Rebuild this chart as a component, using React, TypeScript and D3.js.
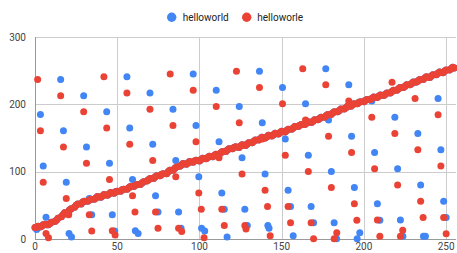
import React, { useEffect } from "react";
import * as d3 from "d3";

const WIDTH = 457;
const HEIGHT = 253;

const seriesNames = ["helloworld", "helloworle"];
const seriesColors = ["#4285F4", "#EA4335"];
const xTicks = [0, 50, 100, 150, 200, 250];
const yTicks = [0, 100, 200, 300];

// scattered points of "helloworld"
const helloworldScatter: [number, number][] = [
  [1, 14],
  [3.3, 184.8], [5.0, 108.5], [6.7, 32.2],
  [15.6, 237], [17.3, 160.7], [19.0, 84.4], [20.7, 8.1],
  [29.6, 212.9], [31.3, 136.6], [33.0, 60.3],
  [43.6, 188.8], [45.3, 112.5], [47.0, 36.2],
  [55.9, 241], [57.6, 164.7], [59.3, 88.4], [61.0, 12.1],
  [69.9, 216.9], [71.6, 140.6], [73.3, 64.3],
  [83.9, 192.8], [85.6, 116.5], [87.3, 40.2],
  [96.2, 245], [97.9, 168.7], [99.6, 92.4], [101.3, 16.1],
  [110.2, 220.9], [111.9, 144.6], [113.6, 68.3],
  [124.2, 196.8], [125.9, 120.5], [127.6, 44.2],
  [136.5, 249], [138.2, 172.7], [139.9, 96.4], [141.6, 20.1],
  [150.5, 224.9], [152.2, 148.6], [153.9, 72.3],
  [164.5, 200.8], [166.2, 124.5], [167.9, 48.2],
  [176.8, 253], [178.5, 176.7], [180.2, 100.4], [181.9, 24.1],
  [190.8, 228.9], [192.5, 152.6], [194.2, 76.3], [195.9, 0.5],
  [204.8, 204.8], [206.5, 128.5], [208.2, 52.2],
  [218.8, 180.7], [220.5, 104.4], [222.2, 28.1],
  [231.1, 232.9], [232.8, 156.6], [234.5, 80.3], [236.2, 4.0],
  [245.1, 208.8], [246.8, 132.5], [248.5, 56.2],
  [34.5, 36.1], [48.5, 12.0], [74.8, 40.1], [88.8, 16.0], [115.1, 44.1],
  [129.1, 20.0], [155.4, 48.1], [169.4, 24.0], [183.4, 0.5], [209.7, 28.0],
  [223.7, 3.9], [250.0, 32.0],
  [22.2, 3], [62.7, 8], [103.2, 12], [142.3, 16], [116.8, 3], [157, 5],
  [197.5, 9.4], [237.4, 4],
];

// scattered points of "helloworle"
const helloworleScatter: [number, number][] = [
  [1.6, 237], [3.3, 160.7], [5.0, 84.4], [6.7, 8.1],
  [15.6, 212.9], [17.3, 136.6], [19.0, 60.3],
  [29.6, 188.8], [31.3, 112.5], [33.0, 36.2],
  [41.9, 241], [43.6, 164.7], [45.3, 88.4], [47.0, 12.1],
  [55.9, 216.9], [57.6, 140.6], [59.3, 64.3],
  [69.9, 192.8], [71.6, 116.5], [73.3, 40.2],
  [82.2, 245], [83.9, 168.7], [85.6, 92.4], [87.3, 16.1],
  [96.2, 220.9], [97.9, 144.6], [99.6, 68.3],
  [110.2, 196.8], [111.9, 120.5], [113.6, 44.2],
  [122.5, 249], [124.2, 172.7], [125.9, 96.4], [127.6, 20.1],
  [136.5, 224.9], [138.2, 148.6], [139.9, 72.3],
  [150.5, 200.8], [152.2, 124.5], [153.9, 48.2],
  [162.8, 253], [164.5, 176.7], [166.2, 100.4], [167.9, 24.1],
  [176.8, 228.9], [178.5, 152.6], [180.2, 76.3], [181.9, 0.5],
  [190.8, 204.8], [192.5, 128.5], [194.2, 52.2],
  [204.8, 180.7], [206.5, 104.4], [208.2, 28.1],
  [217.1, 232.9], [218.8, 156.6], [220.5, 80.3], [222.2, 4.0],
  [231.1, 208.8], [232.8, 132.5], [234.5, 56.2],
  [245.1, 184.7], [246.8, 108.4], [248.5, 32.1],
  [20.5, 36.1], [34.5, 12.0], [60.8, 40.1], [74.8, 16.0], [101.1, 44.1],
  [115.1, 20.0], [141.4, 48.1], [155.4, 24.0], [169.4, 0.5], [195.7, 28.0],
  [209.7, 3.9], [236.0, 32.0], [250.0, 7.9],
  [8.2, 2], [48.7, 6], [89.2, 11], [128.3, 15], [102.8, 2], [143, 5],
  [183.5, 9.4], [223.6, 13],
];

// dense rising band shared by both series
const diagonalPoints: [number, number][] = [
  [0, 17], [1, 18], [2, 19], [3, 18], [4, 19], [5, 21], [6, 22], [7, 21], [8, 21], [9, 23], [10, 25],
  [12, 26], [13, 28], [14, 31], [16, 33], [17, 36], [18, 39], [20, 40], [21, 43], [22, 45], [24, 47],
  [25, 50], [26, 52], [28, 52], [29, 55], [30, 56], [32, 56], [33, 58], [34, 59], [36, 59], [37, 61],
  [38, 63], [40, 62], [41, 64], [42, 66], [44, 65], [45, 67], [46, 69], [48, 68], [49, 70], [50, 71],
  [52, 71], [53, 73], [54, 74], [56, 74], [57, 76], [58, 78], [60, 78], [61, 80], [62, 81], [64, 81],
  [65, 83], [66, 85], [68, 86], [69, 88], [70, 90], [72, 90], [73, 92], [74, 94], [76, 94], [77, 96],
  [78, 97], [80, 97], [81, 100], [82, 102], [84, 102], [85, 105], [86, 107], [88, 108], [89, 110],
  [90, 112], [92, 111], [93, 113], [94, 115], [96, 114], [97, 116], [98, 117], [100, 116], [101, 118],
  [102, 120], [104, 119], [105, 121], [106, 123], [108, 122], [109, 124], [110, 126], [112, 126],
  [113, 128], [114, 130], [116, 130], [117, 132], [118, 134], [120, 134], [121, 136], [122, 137],
  [124, 136], [125, 138], [126, 140], [128, 139], [129, 141], [130, 143], [132, 143], [133, 145],
  [134, 147], [136, 147], [137, 149], [138, 151], [140, 150], [141, 152], [142, 154], [144, 153],
  [145, 155], [146, 157], [148, 156], [149, 158], [150, 160], [152, 159], [153, 161], [154, 163],
  [156, 163], [157, 165], [158, 167], [160, 167], [161, 169], [162, 170], [164, 170], [165, 172],
  [166, 174], [168, 173], [169, 175], [170, 177], [172, 177], [173, 179], [174, 181], [176, 181],
  [177, 183], [178, 185], [180, 185], [181, 187], [182, 189], [184, 189], [185, 191], [186, 193],
  [188, 193], [189, 195], [190, 197], [192, 197], [193, 199], [194, 201], [196, 201], [197, 203],
  [198, 204], [200, 204], [201, 206], [202, 207], [204, 207], [205, 209], [206, 211], [208, 210],
  [209, 212], [210, 214], [212, 213], [213, 215], [214, 217], [216, 217], [217, 219], [218, 221],
  [220, 221], [221, 223], [222, 225], [224, 225], [225, 227], [226, 229], [228, 229], [229, 231],
  [230, 233], [232, 233], [233, 235], [234, 237], [236, 237], [237, 239], [238, 241], [240, 240],
  [241, 242], [242, 244], [244, 244], [245, 246], [246, 248], [248, 247], [249, 249], [250, 251],
  [252, 251], [253, 253], [254, 255], [255, 254],
];

const plot = { left: 35, right: 456, top: 37, bottom: 239 };

export default function App() {
  useEffect(() => {
    document.body.style.margin = "0";
  }, []);

  const x = d3.scaleLinear().domain([0, 256]).range([plot.left, plot.right]);
  const y = d3.scaleLinear().domain([0, 300]).range([plot.bottom, plot.top]);

  const series = [
    helloworldScatter.concat(diagonalPoints),
    helloworleScatter.concat(diagonalPoints),
  ];

  const font = "Roboto, Arial, sans-serif";

  return (
    <div style={{ position: "absolute", left: 0, top: 0 }}>
      <svg width={WIDTH} height={HEIGHT} style={{ display: "block", background: "#fff" }} fontFamily={font}>
        <rect x={0} y={0} width={WIDTH} height={HEIGHT} fill="#fff" />
        {yTicks.filter((t) => t > 0).map((t) => (
          <line key={"gy" + t} x1={plot.left} x2={plot.right} y1={Math.round(y(t)) + 0.5} y2={Math.round(y(t)) + 0.5} stroke="#cccccc" strokeWidth={1} />
        ))}
        {xTicks.filter((t) => t > 0).map((t) => (
          <line key={"gx" + t} y1={plot.top} y2={plot.bottom} x1={Math.round(x(t)) + 0.5} x2={Math.round(x(t)) + 0.5} stroke="#cccccc" strokeWidth={1} />
        ))}
        <line x1={Math.round(x(0)) + 0.5} x2={Math.round(x(0)) + 0.5} y1={plot.top} y2={plot.bottom} stroke="#999" strokeWidth={1} />
        <line x1={plot.left} x2={plot.right} y1={Math.round(y(0)) + 0.5} y2={Math.round(y(0)) + 0.5} stroke="#999" strokeWidth={1} />

        {series.map((pts, si) => (
          <g key={"s" + si} fill={seriesColors[si]}>
            {pts.map((p, i) => (
              <circle key={i} cx={x(p[0])} cy={y(p[1])} r={3.5} />
            ))}
          </g>
        ))}

        {yTicks.map((t) => (
          <text key={"ty" + t} x={26} y={y(t) + 3.5} textAnchor="end" fontSize={10} fill="#444">
            {d3.format("d")(t)}
          </text>
        ))}
        {xTicks.map((t) => (
          <text key={"tx" + t} x={x(t)} y={250} textAnchor="middle" fontSize={10} fill="#444">
            {d3.format("d")(t)}
          </text>
        ))}

        <g>
          <circle cx={171.7} cy={17.3} r={4.7} fill={seriesColors[0]} />
          <text x={182.7} y={20.8} fontSize={10} fill="#222">{seriesNames[0]}</text>
          <circle cx={246.7} cy={17.3} r={4.7} fill={seriesColors[1]} />
          <text x={257.3} y={20.8} fontSize={10} fill="#222">{seriesNames[1]}</text>
        </g>
      </svg>
    </div>
  );
}
